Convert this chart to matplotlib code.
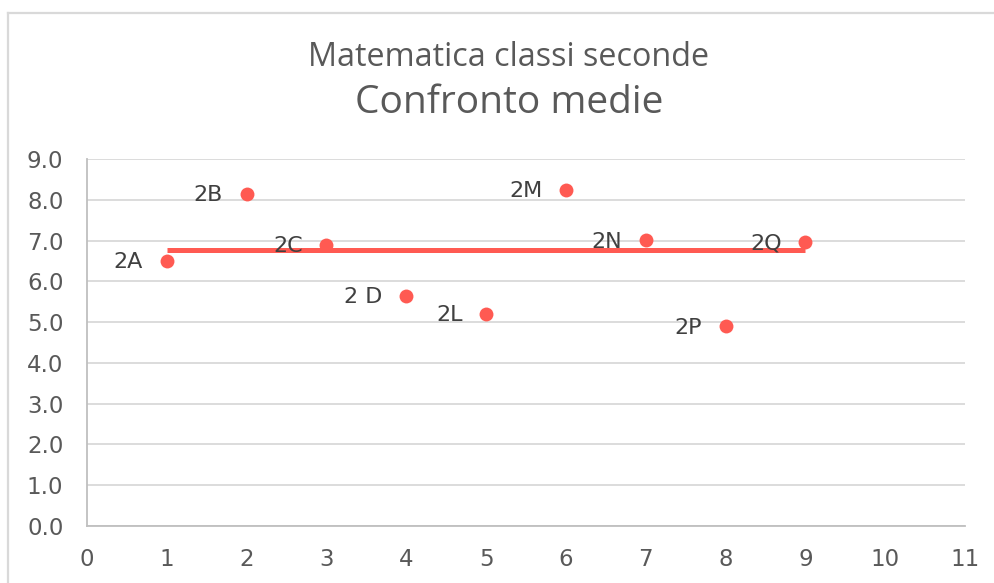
import matplotlib
matplotlib.use("Agg")
import matplotlib.pyplot as plt
from matplotlib.lines import Line2D

# Data
classes = ["2A", "2B", "2C", "2 D", "2L", "2M", "2N", "2P", "2Q"]
x_vals = [1, 2, 3, 4, 5, 6, 7, 8, 9]
averages = [6.50, 8.15, 6.89, 5.65, 5.21, 8.25, 7.01, 4.90, 6.97]
mean_line_x = [1, 9]
mean_line_y = [6.76, 6.76]
title_line1 = "Matematica classi seconde"
title_line2 = "Confronto medie"
x_ticks = list(range(0, 12))
y_ticks = [i * 1.0 for i in range(0, 10)]

RED = "#ff5a52"
GRID = "#d9d9d9"
TXT = "#595959"
LBL = "#404040"

W, H = 995, 583
fig = plt.figure(figsize=(W / 100, H / 100), dpi=100)
fig.patch.set_facecolor("white")

# chart area border (top & left visible)
fig.add_artist(Line2D([8 / W, 1.0], [1 - 13 / H, 1 - 13 / H], transform=fig.transFigure,
                      color=GRID, lw=1.6))
fig.add_artist(Line2D([8 / W, 8 / W], [0, 1 - 13 / H], transform=fig.transFigure,
                      color=GRID, lw=1.6))

ax = fig.add_axes([87 / W, 1 - 526 / H, (965 - 87) / W, (526 - 159) / H])
ax.set_xlim(0, 11)
ax.set_ylim(0, 9)
ax.set_xticks(x_ticks)
ax.set_yticks(y_ticks)
ax.set_yticklabels([f"{v:.1f}" for v in y_ticks])
ax.tick_params(axis="both", length=0, labelsize=16.5, colors=TXT)
ax.tick_params(axis="x", pad=16)
ax.tick_params(axis="y", pad=17)
for lab in ax.get_xticklabels() + ax.get_yticklabels():
    lab.set_fontfamily("DejaVu Sans")

ax.grid(axis="y", color=GRID, lw=1.3)
ax.set_axisbelow(True)
for s in ["top", "right"]:
    ax.spines[s].set_visible(False)
ax.spines["left"].set_color("#bfbfbf")
ax.spines["bottom"].set_color("#bfbfbf")
ax.spines["left"].set_linewidth(1.3)
ax.spines["bottom"].set_linewidth(1.3)

ax.plot(mean_line_x, mean_line_y, color=RED, lw=3.6, solid_capstyle="butt", zorder=2)
ax.plot(x_vals, averages, linestyle="none", marker="o", markersize=10,
        color=RED, markeredgewidth=0, zorder=3)

for xv, yv, name in zip(x_vals, averages, classes):
    ax.annotate(name, (xv, yv), xytext=(-17, -1), textcoords="offset points",
                ha="right", va="center", fontsize=16, color=LBL,
                fontfamily="DejaVu Sans", zorder=4)

# titles, fitted to target width
cx = 509 / W
t1 = fig.text(cx, 1 - 57 / H, title_line1, ha="center", va="center",
              fontsize=22, color=TXT, fontfamily="Open Sans")
t2 = fig.text(cx, 1 - 103 / H, title_line2, ha="center", va="center",
              fontsize=28, color=TXT, fontfamily="Open Sans")
fig.canvas.draw()
r = fig.canvas.get_renderer()
for t, target in [(t1, 402), (t2, 308)]:
    w = t.get_window_extent(r).width
    t.set_fontsize(t.get_fontsize() * target / w)

fig.savefig("out.png", dpi=100, facecolor="white")
